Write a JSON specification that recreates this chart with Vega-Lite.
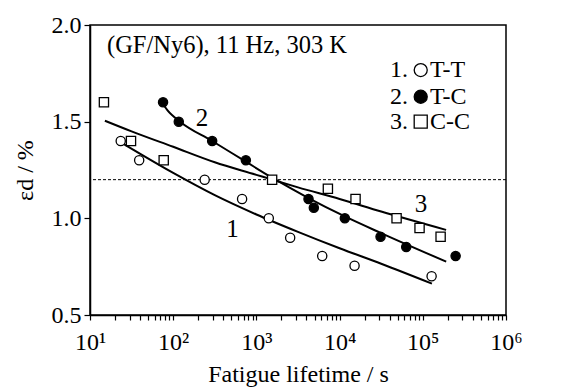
{
  "$schema": "https://vega.github.io/schema/vega-lite/v6.json",
  "width": 416,
  "height": 290,
  "autosize": {"type": "none"},
  "padding": {"left": 90, "top": 25, "right": 72, "bottom": 75},
  "background": "white",
  "config": {
    "font": "Liberation Serif",
    "view": {"stroke": "black", "strokeWidth": 1.5},
    "axis": {
      "labelFont": "Liberation Serif",
      "titleFont": "Liberation Serif",
      "labelColor": "black",
      "titleColor": "black",
      "labelFontSize": 24,
      "titleFontSize": 24,
      "titleFontWeight": "normal",
      "domainColor": "black",
      "domainWidth": 1.5,
      "labelOverlap": false,
      "grid": false
    }
  },
  "datasets": {
    "points": [
      {"series": "T-T", "x": 23.4, "y": 1.40},
      {"series": "T-T", "x": 39, "y": 1.30},
      {"series": "T-T", "x": 239, "y": 1.20},
      {"series": "T-T", "x": 673, "y": 1.10},
      {"series": "T-T", "x": 1409, "y": 1.00},
      {"series": "T-T", "x": 2546, "y": 0.90},
      {"series": "T-T", "x": 6180, "y": 0.805},
      {"series": "T-T", "x": 15130, "y": 0.755},
      {"series": "T-T", "x": 127600, "y": 0.70},
      {"series": "T-C", "x": 75.5, "y": 1.60},
      {"series": "T-C", "x": 116.7, "y": 1.50},
      {"series": "T-C", "x": 294, "y": 1.40},
      {"series": "T-C", "x": 747, "y": 1.30},
      {"series": "T-C", "x": 4230, "y": 1.10},
      {"series": "T-C", "x": 4900, "y": 1.055},
      {"series": "T-C", "x": 11560, "y": 1.00},
      {"series": "T-C", "x": 31050, "y": 0.905},
      {"series": "T-C", "x": 63200, "y": 0.852},
      {"series": "T-C", "x": 248000, "y": 0.805},
      {"series": "C-C", "x": 14.7, "y": 1.60},
      {"series": "C-C", "x": 31.1, "y": 1.40},
      {"series": "C-C", "x": 76.9, "y": 1.30},
      {"series": "C-C", "x": 1545, "y": 1.20},
      {"series": "C-C", "x": 7230, "y": 1.153},
      {"series": "C-C", "x": 15550, "y": 1.10},
      {"series": "C-C", "x": 48400, "y": 1.00},
      {"series": "C-C", "x": 91400, "y": 0.95},
      {"series": "C-C", "x": 163700, "y": 0.905}
    ],
    "curves": [
      {"series": "1", "x": 25.7, "y": 1.383},
      {"series": "1", "x": 100, "y": 1.235},
      {"series": "1", "x": 316, "y": 1.12},
      {"series": "1", "x": 1000, "y": 1.02},
      {"series": "1", "x": 3162, "y": 0.93},
      {"series": "1", "x": 10000, "y": 0.845},
      {"series": "1", "x": 31623, "y": 0.765},
      {"series": "1", "x": 128800, "y": 0.662},
      {"series": "2", "x": 77, "y": 1.585},
      {"series": "2", "x": 85, "y": 1.56},
      {"series": "2", "x": 121, "y": 1.50},
      {"series": "2", "x": 294, "y": 1.40},
      {"series": "2", "x": 747, "y": 1.293},
      {"series": "2", "x": 1545, "y": 1.21},
      {"series": "2", "x": 4230, "y": 1.105},
      {"series": "2", "x": 11560, "y": 1.01},
      {"series": "2", "x": 31050, "y": 0.925},
      {"series": "2", "x": 191000, "y": 0.776},
      {"series": "3", "x": 15.1, "y": 1.505},
      {"series": "3", "x": 31.6, "y": 1.45},
      {"series": "3", "x": 100, "y": 1.37},
      {"series": "3", "x": 316, "y": 1.29},
      {"series": "3", "x": 1000, "y": 1.225},
      {"series": "3", "x": 1549, "y": 1.20},
      {"series": "3", "x": 3162, "y": 1.16},
      {"series": "3", "x": 10000, "y": 1.10},
      {"series": "3", "x": 31623, "y": 1.035},
      {"series": "3", "x": 190500, "y": 0.94}
    ],
    "legend": [
      {"series": "T-T", "num": "1.", "ly": 1.767},
      {"series": "T-C", "num": "2.", "ly": 1.629},
      {"series": "C-C", "num": "3.", "ly": 1.50}
    ],
    "labels": [
      {"lab": "1", "x": 515, "y": 0.943},
      {"lab": "2", "x": 222, "y": 1.517},
      {"lab": "3", "x": 95000, "y": 1.074}
    ]
  },
  "layer": [
    {
      "data": {"name": "curves"},
      "mark": {"type": "line", "color": "black", "strokeWidth": 2, "interpolate": "monotone"},
      "encoding": {
        "x": {
          "field": "x", "type": "quantitative",
          "scale": {"type": "log", "domain": [10, 1000000], "nice": false},
          "axis": {
            "values": [10, 20, 30, 40, 50, 60, 70, 80, 90, 100, 200, 300, 400, 500, 600, 700, 800, 900, 1000, 2000, 3000, 4000, 5000, 6000, 7000, 8000, 9000, 10000, 20000, 30000, 40000, 50000, 60000, 70000, 80000, 90000, 100000, 200000, 300000, 400000, 500000, 600000, 700000, 800000, 900000, 1000000],
            "labelExpr": "datum.value == 10 ? '10¹' : datum.value == 100 ? '10²' : datum.value == 1000 ? '10³' : datum.value == 10000 ? '10⁴' : datum.value == 100000 ? '10⁵' : datum.value == 1000000 ? '10⁶' : ''",
            "ticks": true,
            "tickColor": "black",
            "tickWidth": 1.2,
            "tickSize": 5,
            "labelPadding": 10,
            "labelFlush": false,
            "title": "Fatigue lifetime / s",
            "titlePadding": 8
          }
        },
        "y": {
          "field": "y", "type": "quantitative",
          "scale": {"domain": [0.5, 2.0], "nice": false, "zero": false},
          "axis": {
            "values": [0.5, 1.0, 1.5, 2.0],
            "format": ".1f",
            "ticks": true,
            "tickColor": "black",
            "tickWidth": 1.2,
            "tickSize": 6,
            "labelPadding": 3,
            "title": "εd / %",
            "titlePadding": 14
          }
        },
        "detail": {"field": "series"}
      }
    },
    {
      "data": {"values": [{"y": 1.2}]},
      "mark": {"type": "rule", "color": "black", "strokeWidth": 1, "strokeDash": [3, 2]},
      "encoding": {
        "y": {"field": "y", "type": "quantitative"}
      }
    },
    {
      "data": {"name": "points"},
      "mark": {"type": "point", "filled": true, "stroke": "black", "strokeWidth": 1.3, "size": 85, "opacity": 1},
      "encoding": {
        "x": {"field": "x", "type": "quantitative"},
        "y": {"field": "y", "type": "quantitative"},
        "shape": {"field": "series", "type": "nominal", "scale": {"domain": ["T-T", "T-C", "C-C"], "range": ["circle", "circle", "square"]}, "legend": null},
        "fill": {"field": "series", "type": "nominal", "scale": {"domain": ["T-T", "T-C", "C-C"], "range": ["white", "black", "white"]}, "legend": null}
      }
    },
    {
      "data": {"name": "labels"},
      "mark": {"type": "text", "fontSize": 25, "font": "Liberation Serif", "color": "black", "align": "center", "baseline": "middle"},
      "encoding": {
        "x": {"field": "x", "type": "quantitative"},
        "y": {"field": "y", "type": "quantitative"},
        "text": {"field": "lab"}
      }
    },
    {
      "data": {"values": [{"t": "(GF/Ny6), 11 Hz, 303 K"}]},
      "mark": {"type": "text", "fontSize": 24.5, "font": "Liberation Serif", "color": "black", "align": "left", "baseline": "alphabetic"},
      "encoding": {
        "x": {"datum": 16},
        "y": {"datum": 1.857},
        "text": {"field": "t"}
      }
    },
    {
      "data": {"name": "legend"},
      "mark": {"type": "text", "fontSize": 24, "font": "Liberation Serif", "color": "black", "align": "left", "baseline": "middle"},
      "encoding": {
        "x": {"datum": 40370},
        "y": {"field": "ly", "type": "quantitative"},
        "text": {"field": "num"}
      }
    },
    {
      "data": {"name": "legend"},
      "mark": {"type": "point", "filled": true, "stroke": "black", "strokeWidth": 1.3, "size": 170, "opacity": 1},
      "encoding": {
        "x": {"datum": 94400},
        "y": {"field": "ly", "type": "quantitative"},
        "shape": {"field": "series", "type": "nominal", "legend": null},
        "fill": {"field": "series", "type": "nominal", "legend": null}
      }
    },
    {
      "data": {"name": "legend"},
      "mark": {"type": "text", "fontSize": 24, "font": "Liberation Serif", "color": "black", "align": "left", "baseline": "middle"},
      "encoding": {
        "x": {"datum": 122000},
        "y": {"field": "ly", "type": "quantitative"},
        "text": {"field": "series"}
      }
    }
  ]
}
